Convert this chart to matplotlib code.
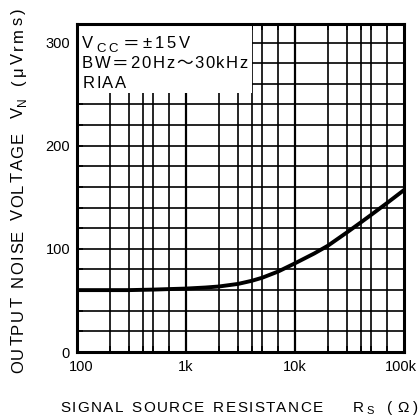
import matplotlib
matplotlib.use("Agg")
import matplotlib.pyplot as plt
from matplotlib.patches import Rectangle
from matplotlib.transforms import ScaledTranslation
from matplotlib.font_manager import FontProperties
import matplotlib.ticker as mticker

FAM = ['Liberation Sans', 'Noto Sans CJK JP', 'DejaVu Sans']
plt.rcParams['font.family'] = FAM

# Data
rs_ohm = [100, 200, 300, 500, 700, 1000, 1500, 2000, 3000, 4000, 5000, 7000,
          10000, 15000, 20000, 30000, 40000, 50000, 70000, 100000]
vn_uvrms = [60, 60, 60, 60.5, 61, 61.5, 62.5, 63.5, 66, 69, 72, 78,
            86, 95.5, 103, 116, 125.5, 133, 144.5, 157]

x_ticks = [100, 1000, 10000, 100000]
x_tick_labels = ["100", "1k", "10k", "100k"]
y_ticks = [0, 100, 200, 300]
y_tick_labels = ["0", "100", "200", "300"]
x_grid_mult = [1, 2, 3, 4, 5, 7]
decades = [100, 1000, 10000]
y_grid = list(range(20, 320, 20))

x_label_words = "SIGNAL SOURCE RESISTANCE"
y_label_words = "OUTPUT NOISE VOLTAGE"
note_lines = ["＝±15V", "BW＝20Hz～30kHz", "RIAA"]

W, H = 420, 416
fig = plt.figure(figsize=(W / 100, H / 100), dpi=100)
renderer = fig.canvas.get_renderer()


def fx(px):
    return px / W


def fy(py):
    return 1 - py / H


def char_w(ch, size):
    fp = FontProperties(family=FAM, size=size)
    return renderer.get_text_width_height_descent(ch, fp, ismath=False)[0]


def spaced_text(s, start, end, base, size, vertical=False, space_px=5.0):
    """Place text letter by letter so that it spans start..end pixels."""
    chars = list(s)
    widths = [space_px if c == ' ' else char_w(c, size) for c in chars]
    gaps = len(chars) - 1
    length = abs(end - start)
    track = (length - sum(widths)) / gaps if gaps > 0 else 0
    pos = 0.0
    for c, w in zip(chars, widths):
        if c != ' ':
            if vertical:
                fig.text(fx(base), fy(start - pos), c, fontsize=size, rotation=90,
                         rotation_mode='anchor', ha='left', va='baseline', zorder=6)
            else:
                fig.text(fx(start + pos), fy(base), c, fontsize=size,
                         ha='left', va='baseline', zorder=6)
        pos += w + track


ax = fig.add_axes([fx(77), fy(352), 327 / W, 328 / H])
ax.set_xscale('log')
ax.set_xlim(100, 100000)
ax.set_ylim(0, 318)

# grid
for d in decades:
    for m in x_grid_mult:
        xv = d * m
        if xv <= 100 or xv >= 100000:
            continue
        lw = 1.6 if m == 1 else 1.2
        ax.axvline(xv, color='black', lw=lw, zorder=1)
for yv in y_grid:
    ax.axhline(yv, color='black', lw=1.2, zorder=1)

# white area behind the notes
ax.add_patch(Rectangle((100, 251), 4000 - 100, 318 - 251, facecolor='white',
                       edgecolor='none', zorder=2))

ax.plot(rs_ohm, vn_uvrms, color='black', lw=2.8, zorder=3, solid_capstyle='round')

ax.set_xticks(x_ticks)
ax.set_xticklabels(x_tick_labels)
ax.xaxis.set_minor_locator(mticker.FixedLocator(
    [d * m for d in decades for m in x_grid_mult if m != 1]))
ax.xaxis.set_minor_formatter(mticker.NullFormatter())
ax.set_yticks(y_ticks)
ax.set_yticklabels(y_tick_labels)
ax.yaxis.set_minor_locator(mticker.FixedLocator(y_grid))
ax.tick_params(which='both', direction='in', top=True, right=False, length=4, width=1.2,
               labelsize=10.5)
ax.tick_params(axis='x', pad=6)
ax.tick_params(axis='y', pad=5)

for s in ax.spines.values():
    s.set_linewidth(2.2)
    s.set_zorder(5)

xl = ax.get_xticklabels()
xl[0].set_transform(xl[0].get_transform() + ScaledTranslation(4 / 100, 0, fig.dpi_scale_trans))
xl[-1].set_transform(xl[-1].get_transform() + ScaledTranslation(-3 / 100, 0, fig.dpi_scale_trans))

# notes inside the chart
NOTE = 12
fig.text(fx(82), fy(48.5), "V", fontsize=NOTE, ha='left', va='baseline', zorder=6)
spaced_text("CC", 96, 118, 51.5, 9.5)
spaced_text(note_lines[0], 123, 190, 48.5, NOTE)
spaced_text(note_lines[1], 82, 248, 68.5, NOTE)
spaced_text(note_lines[2], 83, 126, 88.5, NOTE)

# x axis label
XL = 11
spaced_text(x_label_words, 60, 323, 412, XL, space_px=6)
fig.text(fx(353), fy(412), "R", fontsize=XL, ha='left', va='baseline')
fig.text(fx(366), fy(414.5), "S", fontsize=8, ha='left', va='baseline')
spaced_text("(Ω)", 387, 418, 412, XL)

# y axis label (vertical, reading bottom to top)
YL = 12
spaced_text(y_label_words, 373, 132, 23, YL, vertical=True, space_px=7)
fig.text(fx(23), fy(118), "V", fontsize=YL, rotation=90, rotation_mode='anchor',
         ha='left', va='baseline')
fig.text(fx(26), fy(106), "N", fontsize=8.5, rotation=90, rotation_mode='anchor',
         ha='left', va='baseline')
spaced_text("(μVrms)", 85, 8, 23, YL, vertical=True)

fig.savefig("out.png", dpi=100)
